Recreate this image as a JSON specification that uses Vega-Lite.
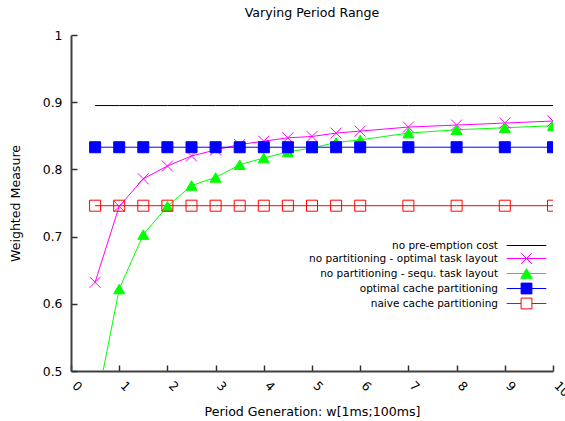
{
  "$schema": "https://vega.github.io/schema/vega-lite/v6.json",
  "width": 482,
  "height": 336,
  "autosize": {"type": "none"},
  "padding": {"left": 71, "top": 35, "right": 12, "bottom": 50},
  "background": "white",
  "title": {"text": "Varying Period Range", "fontSize": 12.6, "fontWeight": "normal", "font": "DejaVu Sans", "offset": 9, "color": "#000000"},
  "config": {
    "view": {"stroke": null},
    "font": "DejaVu Sans",
    "axis": {
      "grid": false,
      "domainColor": "#404040",
      "domainWidth": 2,
      "tickColor": "#303030",
      "tickWidth": 1.5,
      "tickSize": -6,
      "labelFont": "DejaVu Sans",
      "labelFontSize": 12.4,
      "labelColor": "#000000",
      "titleFont": "DejaVu Sans",
      "titleFontSize": 12.6,
      "titleFontWeight": "normal",
      "titleColor": "#000000"
    }
  },
  "data": {
    "values": [
      {"series": "no pre-emption cost", "x": 0.5, "y": 0.895},
      {"series": "no pre-emption cost", "x": 1, "y": 0.895},
      {"series": "no pre-emption cost", "x": 1.5, "y": 0.895},
      {"series": "no pre-emption cost", "x": 2, "y": 0.895},
      {"series": "no pre-emption cost", "x": 2.5, "y": 0.895},
      {"series": "no pre-emption cost", "x": 3, "y": 0.895},
      {"series": "no pre-emption cost", "x": 3.5, "y": 0.895},
      {"series": "no pre-emption cost", "x": 4, "y": 0.895},
      {"series": "no pre-emption cost", "x": 4.5, "y": 0.895},
      {"series": "no pre-emption cost", "x": 5, "y": 0.895},
      {"series": "no pre-emption cost", "x": 5.5, "y": 0.895},
      {"series": "no pre-emption cost", "x": 6, "y": 0.895},
      {"series": "no pre-emption cost", "x": 7, "y": 0.895},
      {"series": "no pre-emption cost", "x": 8, "y": 0.895},
      {"series": "no pre-emption cost", "x": 9, "y": 0.895},
      {"series": "no pre-emption cost", "x": 10, "y": 0.895},
      {"series": "no partitioning - optimal task layout", "x": 0.5, "y": 0.632},
      {"series": "no partitioning - optimal task layout", "x": 1, "y": 0.745},
      {"series": "no partitioning - optimal task layout", "x": 1.5, "y": 0.786},
      {"series": "no partitioning - optimal task layout", "x": 2, "y": 0.805},
      {"series": "no partitioning - optimal task layout", "x": 2.5, "y": 0.82},
      {"series": "no partitioning - optimal task layout", "x": 3, "y": 0.829},
      {"series": "no partitioning - optimal task layout", "x": 3.5, "y": 0.837},
      {"series": "no partitioning - optimal task layout", "x": 4, "y": 0.842},
      {"series": "no partitioning - optimal task layout", "x": 4.5, "y": 0.847},
      {"series": "no partitioning - optimal task layout", "x": 5, "y": 0.849},
      {"series": "no partitioning - optimal task layout", "x": 5.5, "y": 0.854},
      {"series": "no partitioning - optimal task layout", "x": 6, "y": 0.857},
      {"series": "no partitioning - optimal task layout", "x": 7, "y": 0.863},
      {"series": "no partitioning - optimal task layout", "x": 8, "y": 0.866},
      {"series": "no partitioning - optimal task layout", "x": 9, "y": 0.869},
      {"series": "no partitioning - optimal task layout", "x": 10, "y": 0.872},
      {"series": "no partitioning - sequ. task layout", "x": 0.5, "y": 0.44},
      {"series": "no partitioning - sequ. task layout", "x": 1, "y": 0.622},
      {"series": "no partitioning - sequ. task layout", "x": 1.5, "y": 0.703},
      {"series": "no partitioning - sequ. task layout", "x": 2, "y": 0.745},
      {"series": "no partitioning - sequ. task layout", "x": 2.5, "y": 0.776},
      {"series": "no partitioning - sequ. task layout", "x": 3, "y": 0.788},
      {"series": "no partitioning - sequ. task layout", "x": 3.5, "y": 0.807},
      {"series": "no partitioning - sequ. task layout", "x": 4, "y": 0.817},
      {"series": "no partitioning - sequ. task layout", "x": 4.5, "y": 0.826},
      {"series": "no partitioning - sequ. task layout", "x": 5, "y": 0.832},
      {"series": "no partitioning - sequ. task layout", "x": 5.5, "y": 0.84},
      {"series": "no partitioning - sequ. task layout", "x": 6, "y": 0.844},
      {"series": "no partitioning - sequ. task layout", "x": 7, "y": 0.854},
      {"series": "no partitioning - sequ. task layout", "x": 8, "y": 0.859},
      {"series": "no partitioning - sequ. task layout", "x": 9, "y": 0.862},
      {"series": "no partitioning - sequ. task layout", "x": 10, "y": 0.865},
      {"series": "optimal cache partitioning", "x": 0.5, "y": 0.833},
      {"series": "optimal cache partitioning", "x": 1, "y": 0.833},
      {"series": "optimal cache partitioning", "x": 1.5, "y": 0.833},
      {"series": "optimal cache partitioning", "x": 2, "y": 0.833},
      {"series": "optimal cache partitioning", "x": 2.5, "y": 0.833},
      {"series": "optimal cache partitioning", "x": 3, "y": 0.833},
      {"series": "optimal cache partitioning", "x": 3.5, "y": 0.833},
      {"series": "optimal cache partitioning", "x": 4, "y": 0.833},
      {"series": "optimal cache partitioning", "x": 4.5, "y": 0.833},
      {"series": "optimal cache partitioning", "x": 5, "y": 0.833},
      {"series": "optimal cache partitioning", "x": 5.5, "y": 0.833},
      {"series": "optimal cache partitioning", "x": 6, "y": 0.833},
      {"series": "optimal cache partitioning", "x": 7, "y": 0.833},
      {"series": "optimal cache partitioning", "x": 8, "y": 0.833},
      {"series": "optimal cache partitioning", "x": 9, "y": 0.833},
      {"series": "optimal cache partitioning", "x": 10, "y": 0.833},
      {"series": "naive cache partitioning", "x": 0.5, "y": 0.746},
      {"series": "naive cache partitioning", "x": 1, "y": 0.746},
      {"series": "naive cache partitioning", "x": 1.5, "y": 0.746},
      {"series": "naive cache partitioning", "x": 2, "y": 0.746},
      {"series": "naive cache partitioning", "x": 2.5, "y": 0.746},
      {"series": "naive cache partitioning", "x": 3, "y": 0.746},
      {"series": "naive cache partitioning", "x": 3.5, "y": 0.746},
      {"series": "naive cache partitioning", "x": 4, "y": 0.746},
      {"series": "naive cache partitioning", "x": 4.5, "y": 0.746},
      {"series": "naive cache partitioning", "x": 5, "y": 0.746},
      {"series": "naive cache partitioning", "x": 5.5, "y": 0.746},
      {"series": "naive cache partitioning", "x": 6, "y": 0.746},
      {"series": "naive cache partitioning", "x": 7, "y": 0.746},
      {"series": "naive cache partitioning", "x": 8, "y": 0.746},
      {"series": "naive cache partitioning", "x": 9, "y": 0.746},
      {"series": "naive cache partitioning", "x": 10, "y": 0.746}
    ]
  },
  "layer": [
    {
      "mark": {"type": "line", "clip": true, "strokeWidth": 1},
      "encoding": {
        "x": {
          "field": "x", "type": "quantitative",
          "scale": {"domain": [0, 10], "nice": false, "zero": false},
          "axis": {
            "values": [0, 1, 2, 3, 4, 5, 6, 7, 8, 9, 10],
            "title": "Period Generation: w[1ms;100ms]",
            "labelAngle": 45,
            "labelAlign": "left",
            "labelBaseline": "alphabetic",
            "labelPadding": 21,
            "labelFlush": false,
            "labelOverlap": false,
            "titlePadding": 7
          }
        },
        "y": {
          "field": "y", "type": "quantitative",
          "scale": {"domain": [0.5, 1], "nice": false, "zero": false},
          "axis": {
            "values": [0.5, 0.6, 0.7, 0.8, 0.9, 1],
            "format": "~g",
            "title": "Weighted Measure",
            "labelPadding": 15,
            "labelFlush": false,
            "titlePadding": 20
          }
        },
        "color": {
          "field": "series", "type": "nominal",
          "scale": {
            "domain": ["no pre-emption cost", "no partitioning - optimal task layout", "no partitioning - sequ. task layout", "optimal cache partitioning", "naive cache partitioning"],
            "range": ["#000000", "#ff00ff", "#00ff00", "#0000ff", "#ff0000"]
          },
          "legend": {
            "orient": "none",
            "legendX": 449,
            "legendY": 204,
            "title": null,
            "padding": 0,
            "symbolSize": 144,
            "symbolStrokeWidth": 1,
            "labelAlign": "right",
            "labelOffset": -35,
            "labelFont": "DejaVu Sans",
            "labelFontSize": 10.5,
            "labelColor": "#000000",
            "labelLimit": 400,
            "rowPadding": 0,
            "encode": {
              "symbols": {
                "update": {
                  "shape": {"signal": "datum.value == 'no pre-emption cost' ? 'M-3.3,0H3.3' : datum.value == 'no partitioning - optimal task layout' ? 'M-3.3,0H3.3M-0.9,-0.9L0.9,0.9M-0.9,0.9L0.9,-0.9' : datum.value == 'no partitioning - sequ. task layout' ? 'M-3.3,0H3.3M0,-0.8L0.95,0.8H-0.95Z' : datum.value == 'optimal cache partitioning' ? 'M-3.3,0H3.3M-0.9,-0.9H0.9V0.9H-0.9Z' : 'M-3.3,0H-0.9M0.9,0H3.3M-0.9,-0.9H0.9V0.9H-0.9Z'"},
                  "fill": {"signal": "datum.value == 'optimal cache partitioning' ? '#0000ff' : datum.value == 'no partitioning - sequ. task layout' ? '#00ff00' : 'transparent'"},
                  "opacity": {"value": 1}
                }
              }
            }
          }
        }
      }
    },
    {
      "transform": [{"filter": "datum.series != 'no pre-emption cost'"}],
      "mark": {"type": "point", "clip": true, "strokeWidth": 1, "opacity": 1, "size": 121},
      "encoding": {
        "x": {"field": "x", "type": "quantitative"},
        "y": {"field": "y", "type": "quantitative"},
        "shape": {
          "field": "series", "type": "nominal",
          "scale": {
            "domain": ["no partitioning - optimal task layout", "no partitioning - sequ. task layout", "optimal cache partitioning", "naive cache partitioning"],
            "range": ["M-1,-1L1,1M-1,1L1,-1", "triangle-up", "square", "square"]
          },
          "legend": null
        },
        "stroke": {
          "field": "series", "type": "nominal",
          "scale": {
            "domain": ["no partitioning - optimal task layout", "no partitioning - sequ. task layout", "optimal cache partitioning", "naive cache partitioning"],
            "range": ["#ff00ff", "#00ff00", "#0000ff", "#ff0000"]
          },
          "legend": null
        },
        "fill": {
          "field": "series", "type": "nominal",
          "scale": {
            "domain": ["no partitioning - optimal task layout", "no partitioning - sequ. task layout", "optimal cache partitioning", "naive cache partitioning"],
            "range": ["transparent", "#00ff00", "#0000ff", "transparent"]
          },
          "legend": null
        }
      }
    }
  ]
}
